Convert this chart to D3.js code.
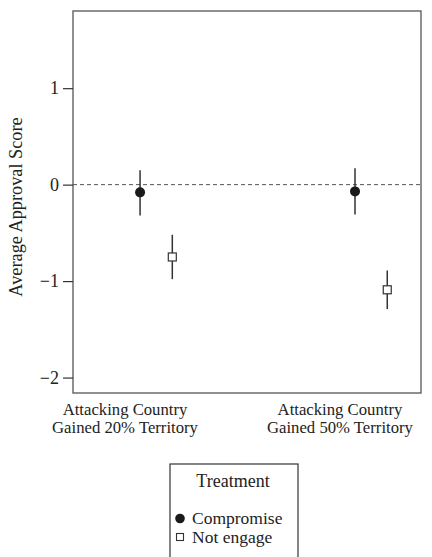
<!DOCTYPE html>
<html>
<head>
<meta charset="utf-8">
<script src="https://cdn.jsdelivr.net/npm/d3@7"></script>
<style>
  html, body { margin: 0; padding: 0; background: #fff; }
  svg { display: block; }
  text { font-family: "Liberation Serif", "DejaVu Serif", serif; fill: #222; }
</style>
</head>
<body>
<svg id="chart" width="432" height="557"></svg>
<script>
// Scenario categories (x positions 1 and 2)
const categories = [
  ["Attacking Country", "Gained 20% Territory"],
  ["Attacking Country", "Gained 50% Territory"]
];
const treatments = ["Compromise", "Not engage"];

// Estimates and 95% intervals per treatment, one entry per category
const compromiseMean  = [-0.08, -0.07];
const compromiseLow   = [-0.32, -0.31];
const compromiseHigh  = [0.15, 0.17];
const notEngageMean   = [-0.75, -1.09];
const notEngageLow    = [-0.98, -1.29];
const notEngageHigh   = [-0.52, -0.89];

const yTicks = [-2, -1, 0, 1];
const yTickLabels = ["\u22122", "\u22121", "0", "1"];

const svg = d3.select("#chart");
const frame = { left: 73, right: 421, top: 11, bottom: 393 };

const x = d3.scaleLinear().domain([0.758, 2.377]).range([frame.left, frame.right]);
const y = d3.scaleLinear().domain([-2.16, 1.80]).range([frame.bottom, frame.top]);

// horizontal offset of each treatment within a category
const dodge = { "Compromise": 0.07, "Not engage": 0.22 };

const points = [];
categories.forEach((c, i) => {
  points.push({ cat: i + 1, t: "Compromise", m: compromiseMean[i], lo: compromiseLow[i], hi: compromiseHigh[i] });
  points.push({ cat: i + 1, t: "Not engage", m: notEngageMean[i], lo: notEngageLow[i], hi: notEngageHigh[i] });
});

// reference line at zero
svg.append("line")
  .attr("x1", frame.left).attr("x2", frame.right)
  .attr("y1", y(0)).attr("y2", y(0))
  .attr("stroke", "#555").attr("stroke-width", 1)
  .attr("stroke-dasharray", "4,3");

// plot frame
svg.append("rect")
  .attr("x", frame.left).attr("y", frame.top)
  .attr("width", frame.right - frame.left).attr("height", frame.bottom - frame.top)
  .attr("fill", "none").attr("stroke", "#555").attr("stroke-width", 1.3);

// y axis
const yAxis = d3.axisLeft(y).tickValues(yTicks).tickSize(10).tickPadding(4)
  .tickFormat((d, i) => yTickLabels[i]);
const ya = svg.append("g").attr("transform", `translate(${frame.left},0)`).call(yAxis);
ya.attr("font-family", null).attr("font-size", null);
ya.select(".domain").remove();
ya.selectAll(".tick line").attr("stroke", "#333").attr("stroke-width", 1.2);
ya.selectAll(".tick text").attr("font-size", 18).attr("fill", "#222");

// y axis title
svg.append("text")
  .attr("transform", `translate(22,${(frame.top + frame.bottom) / 2 + 5}) rotate(-90)`)
  .attr("text-anchor", "middle")
  .attr("font-size", 18.3)
  .text("Average Approval Score");

// x category labels
categories.forEach((lines, i) => {
  const t = svg.append("text").attr("text-anchor", "middle").attr("font-size", 16.7);
  lines.forEach((ln, j) => {
    t.append("tspan").attr("x", x(i + 1)).attr("y", 415 + j * 18).text(ln);
  });
});

// error bars
svg.append("g").selectAll("line").data(points).join("line")
  .attr("x1", d => x(d.cat + dodge[d.t])).attr("x2", d => x(d.cat + dodge[d.t]))
  .attr("y1", d => y(d.lo)).attr("y2", d => y(d.hi))
  .attr("stroke", "#333").attr("stroke-width", 1.5);

// markers
const marks = svg.append("g");
marks.selectAll("circle").data(points.filter(d => d.t === "Compromise")).join("circle")
  .attr("cx", d => x(d.cat + dodge[d.t])).attr("cy", d => y(d.m))
  .attr("r", 5).attr("fill", "#1a1a1a");
marks.selectAll("rect").data(points.filter(d => d.t === "Not engage")).join("rect")
  .attr("x", d => x(d.cat + dodge[d.t]) - 4).attr("y", d => y(d.m) - 4)
  .attr("width", 8).attr("height", 8)
  .attr("fill", "#fff").attr("stroke", "#333").attr("stroke-width", 1.2);

// legend
const lg = svg.append("g");
lg.append("rect").attr("x", 170).attr("y", 464).attr("width", 128).attr("height", 100)
  .attr("fill", "#fff").attr("stroke", "#333").attr("stroke-width", 1.2);
lg.append("text").attr("x", 233).attr("y", 487).attr("text-anchor", "middle")
  .attr("font-size", 18).text("Treatment");
treatments.forEach((t, i) => {
  const yy = 524 + i * 19;
  if (t === "Compromise") {
    lg.append("circle").attr("cx", 180).attr("cy", yy - 5.5).attr("r", 4.8).attr("fill", "#1a1a1a");
  } else {
    lg.append("rect").attr("x", 176.5).attr("y", yy - 9.5).attr("width", 7).attr("height", 7)
      .attr("fill", "#fff").attr("stroke", "#333").attr("stroke-width", 1.1);
  }
  lg.append("text").attr("x", 192).attr("y", yy).attr("font-size", 17.5).text(t);
});
</script>
</body>
</html>
